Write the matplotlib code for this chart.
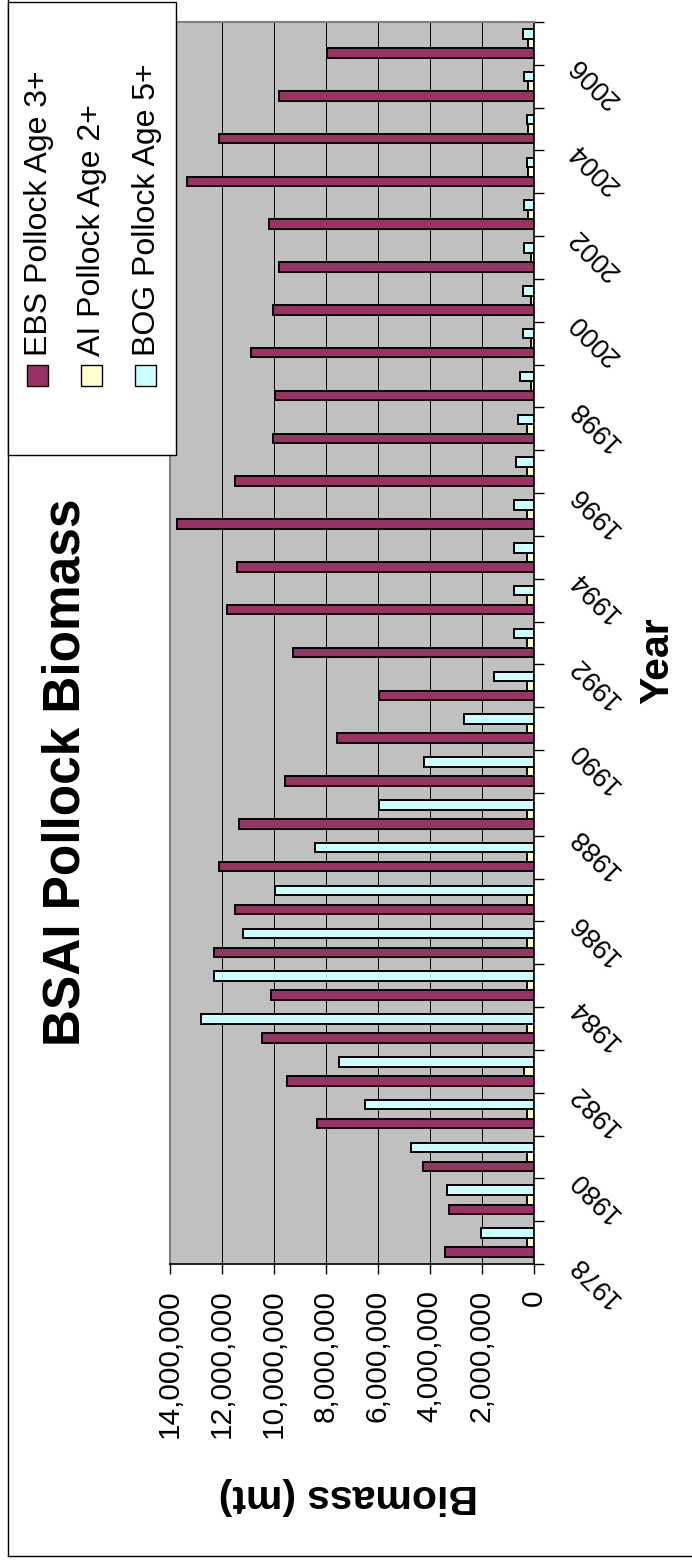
import numpy as np
import matplotlib.pyplot as plt
from matplotlib.patches import Rectangle
from matplotlib.lines import Line2D

plt.rcParams['font.family'] = ['Liberation Sans', 'DejaVu Sans']

# biomass in million t
years = list(range(1978, 2007))
ebs = [3.43, 3.28, 4.26, 8.33, 9.47, 10.46, 10.09, 12.31, 11.47, 12.08,
       11.33, 9.56, 7.58, 5.95, 9.25, 11.78, 11.39, 13.70, 11.47, 10.01,
       9.95, 10.87, 10.01, 9.79, 10.16, 13.31, 12.08, 9.79, 7.96]
ai = [0.28, 0.28, 0.28, 0.28, 0.37, 0.28, 0.28, 0.28, 0.28, 0.28,
      0.28, 0.28, 0.28, 0.28, 0.28, 0.28, 0.28, 0.28, 0.28, 0.28,
      0.13, 0.13, 0.13, 0.13, 0.22, 0.22, 0.22, 0.22, 0.22]
bog = [2.05, 3.35, 4.72, 6.49, 7.49, 12.78, 12.31, 11.16, 9.93, 8.41,
       5.95, 4.21, 2.68, 1.52, 0.76, 0.76, 0.76, 0.76, 0.69, 0.60,
       0.54, 0.43, 0.43, 0.37, 0.37, 0.28, 0.28, 0.37, 0.43]
series = ["EBS Pollock Age 3+", "AI Pollock Age 2+", "BOG Pollock Age 5+"]
colors = ["#993366", "#FFFFCC", "#CCFFFF"]
value_ticks = [0, 2e6, 4e6, 6e6, 8e6, 10e6, 12e6, 14e6]

W, H = 692, 1561
fig = plt.figure(figsize=(W / 100, H / 100), dpi=100)


def fx(px):
    return px / W


def fy(py):
    return 1 - py / H


# chart sheet is printed rotated 90 degrees, so bars run right-to-left
ax = fig.add_axes([fx(169.5), fy(1264), fx(534) - fx(169.5), fy(22) - fy(1264)])
ax.set_facecolor("#C0C0C0")

pos = np.arange(len(years))
w = 1 / 4.5
data = [ebs, ai, bog]
for k, (vals, col) in enumerate(zip(data, colors)):
    ax.barh(pos + (k - 1) * w, np.array(vals) * 1e6, height=w, color=col,
            edgecolor="black", linewidth=1.4, zorder=3)

ax.set_xlim(14e6, 0)
ax.set_ylim(-0.5, len(years) - 0.5)

ax.set_xticks(value_ticks)
ax.set_xticklabels([f"{int(v):,}" for v in value_ticks], rotation=90, fontsize=21.5)
ax.tick_params(axis="x", direction="out", length=7.5, width=1, pad=11, colors="black")
ax.xaxis.grid(True, color="black", linewidth=0.7, zorder=1)

ax.yaxis.tick_right()
ax.set_yticks(np.arange(-0.5, len(years), 1))
ax.set_yticklabels([])
ax.tick_params(axis="y", direction="out", length=7, width=1)

for i, yr in enumerate(years):
    if yr % 2 == 0:
        ax.text(1.107, i - 0.4, str(yr), transform=ax.get_yaxis_transform(),
                rotation=135, rotation_mode="anchor", ha="right", va="center",
                fontsize=19.5)

for side in ["left", "top"]:
    ax.spines[side].set_color("#808080")
    ax.spines[side].set_linewidth(1.5)
for side in ["right", "bottom"]:
    ax.spines[side].set_color("black")
    ax.spines[side].set_linewidth(1.2)

# titles
fig.text(fx(66), fy(772), "BSAI Pollock Biomass", rotation=90, fontsize=37,
         fontweight="bold", ha="center", va="center")
fig.text(fx(348), fy(1496), "Biomass (mt)", rotation=180, fontsize=29.5,
         fontweight="bold", ha="center", va="center")
fig.text(fx(657), fy(661), "Year", rotation=90, fontsize=29.5,
         fontweight="bold", ha="center", va="center")

# outer chart border
fig.add_artist(Line2D([fx(7.5), fx(7.5)], [fy(0), fy(1556)], color="black", lw=1))
fig.add_artist(Line2D([fx(7.5), fx(692)], [fy(1556), fy(1556)], color="black", lw=1))

# legend box
fig.add_artist(Rectangle((fx(7.5), fy(455)), fx(175.6) - fx(7.5), fy(2) - fy(455),
                         facecolor="white", edgecolor="black", lw=1, zorder=5))
for name, col, bx, tx in zip(series, colors, [27, 81, 135], [47, 100, 155]):
    fig.add_artist(Rectangle((fx(bx), fy(386)), fx(21), fy(0) - fy(21),
                             facecolor=col, edgecolor="black", lw=1, zorder=6))
    fig.text(fx(tx), fy(356), name, rotation=90, rotation_mode="anchor",
             ha="left", va="baseline", fontsize=23, zorder=6)

fig.savefig("out.png", dpi=100)
